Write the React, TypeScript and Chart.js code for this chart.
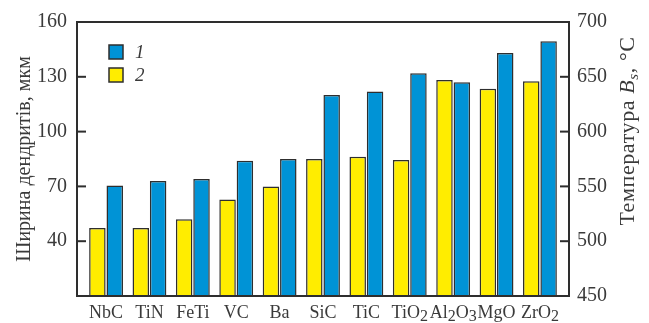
import React, { useEffect, useRef } from 'react';
import { Chart, registerables } from 'chart.js';

Chart.register(...registerables);

// ---- data ----
const categories = ['NbC', 'TiN', 'FeTi', 'VC', 'Ba', 'SiC', 'TiC', 'TiO₂', 'Al₂O₃', 'MgO', 'ZrO₂'];
const dendriteWidth = [70.5, 73, 74, 84, 85, 120, 122, 132, 127, 143, 149.5]; // series 1, left axis (мкм)
const temperatureBs = [512, 512, 520, 538, 550, 575, 577, 574, 647, 639, 646]; // series 2, right axis (°C)
const leftTicks = [10, 40, 70, 100, 130, 160];
const rightTicks = [450, 500, 550, 600, 650, 700];
const seriesLabels = ['1', '2'];
const leftTitle = 'Ширина дендритів, мкм';
const rightTitleParts = ['Температура ', 'B', 's', ', °C'];

const SERIF = "'Liberation Serif', 'Times New Roman', serif";
const BLUE = '#0093d6';
const YELLOW = '#ffed00';
const EDGE = '#2e2e2e';
const TEXT = '#3a3a3a';

const SUB = '₀₁₂₃₄₅₆₇₈₉';

function drawFormula(ctx: CanvasRenderingContext2D, text: string, cx: number, y: number) {
  const segs: { t: string; sub: boolean }[] = [];
  for (const ch of Array.from(text)) {
    const idx = SUB.indexOf(ch);
    const sub = idx >= 0;
    const c = sub ? String(idx) : ch;
    const last = segs[segs.length - 1];
    if (last && last.sub === sub) last.t += c;
    else segs.push({ t: c, sub });
  }
  const fontN = `18px ${SERIF}`;
  const fontS = `16px ${SERIF}`;
  let total = 0;
  segs.forEach((s) => {
    ctx.font = s.sub ? fontS : fontN;
    total += ctx.measureText(s.t).width;
  });
  let x = cx - total / 2;
  ctx.textAlign = 'left';
  ctx.textBaseline = 'alphabetic';
  segs.forEach((s) => {
    ctx.font = s.sub ? fontS : fontN;
    ctx.fillText(s.t, x, s.sub ? y + 3 : y);
    x += ctx.measureText(s.t).width;
  });
}

const framePlugin = {
  id: 'frame',
  afterDraw(chart: any) {
    const { ctx, chartArea } = chart;
    const { left, right, top, bottom } = chartArea;
    ctx.save();
    // inward tick marks
    ctx.strokeStyle = EDGE;
    ctx.lineWidth = 2;
    const yL = chart.scales.y;
    const yR = chart.scales.y2;
    yL.ticks.forEach((t: any) => {
      const p = yL.getPixelForValue(t.value);
      if (p <= top + 2 || p >= bottom - 2) return;
      ctx.beginPath();
      ctx.moveTo(left, p);
      ctx.lineTo(left + 9, p);
      ctx.stroke();
    });
    yR.ticks.forEach((t: any) => {
      const p = yR.getPixelForValue(t.value);
      if (p <= top + 2 || p >= bottom - 2) return;
      ctx.beginPath();
      ctx.moveTo(right, p);
      ctx.lineTo(right - 9, p);
      ctx.stroke();
    });
    // box
    ctx.lineWidth = 2;
    ctx.strokeRect(left, top, right - left, bottom - top);

    // category labels (with lowered subscript digits)
    ctx.fillStyle = TEXT;
    const xs = chart.scales.x;
    categories.forEach((c, i) => {
      drawFormula(ctx, c, xs.getPixelForValue(i), 318);
    });

    // legend (series 1 first)
    const ds = chart.data.datasets;
    [1, 0].forEach((di, k) => {
      const d = ds[di];
      const bx = left + 32;
      const by = top + 23 + k * 23;
      ctx.fillStyle = d.backgroundColor;
      ctx.fillRect(bx, by, 14, 14);
      ctx.lineWidth = 1.5;
      ctx.strokeStyle = EDGE;
      ctx.strokeRect(bx, by, 14, 14);
      ctx.fillStyle = TEXT;
      ctx.font = `italic 19px ${SERIF}`;
      ctx.textBaseline = 'middle';
      ctx.textAlign = 'left';
      ctx.fillText(d.label, bx + 26, by + 8);
    });

    // left title
    ctx.fillStyle = TEXT;
    ctx.save();
    ctx.translate(30, (top + bottom) / 2);
    ctx.rotate(-Math.PI / 2);
    ctx.font = `20px ${SERIF}`;
    ctx.textAlign = 'center';
    ctx.textBaseline = 'alphabetic';
    ctx.fillText(leftTitle, 0, 0);
    ctx.restore();

    // right title with italic B and subscript s
    const parts = [
      { t: rightTitleParts[0], f: `22px ${SERIF}`, dy: 0 },
      { t: rightTitleParts[1], f: `italic 22px ${SERIF}`, dy: 0 },
      { t: rightTitleParts[2], f: `italic 15px ${SERIF}`, dy: 4 },
      { t: rightTitleParts[3], f: `22px ${SERIF}`, dy: 0 },
    ];
    ctx.save();
    try {
      (ctx as any).letterSpacing = '0.6px';
    } catch (e) {}
    let total = 0;
    parts.forEach((p) => {
      ctx.font = p.f;
      total += ctx.measureText(p.t).width;
    });
    ctx.translate(634, 131);
    ctx.rotate(-Math.PI / 2);
    ctx.textAlign = 'left';
    ctx.textBaseline = 'alphabetic';
    let x = -total / 2;
    parts.forEach((p) => {
      ctx.font = p.f;
      ctx.fillText(p.t, x, p.dy);
      x += ctx.measureText(p.t).width;
    });
    ctx.restore();
    ctx.restore();
  },
};

export default function App() {
  const ref = useRef<HTMLCanvasElement | null>(null);
  useEffect(() => {
    if (!ref.current) return;
    const chart = new Chart(ref.current, {
      type: 'bar',
      data: {
        datasets: [
          {
            label: seriesLabels[1],
            data: temperatureBs.map((v, i) => ({ x: i, y: v })),
            backgroundColor: YELLOW,
            borderColor: EDGE,
            borderWidth: 1.5,
            yAxisID: 'y2',
          },
          {
            label: seriesLabels[0],
            data: dendriteWidth.map((v, i) => ({ x: i, y: v })),
            backgroundColor: BLUE,
            borderColor: EDGE,
            borderWidth: 1.5,
            yAxisID: 'y',
          },
        ],
      } as any,
      options: {
        responsive: false,
        animation: false,
        devicePixelRatio: 1,
        layout: { padding: { top: 16, left: 0, right: 0, bottom: 0 } },
        datasets: { bar: { categoryPercentage: 0.8, barPercentage: 0.95 } },
        plugins: { legend: { display: false }, tooltip: { enabled: false } },
        scales: {
          x: {
            type: 'linear',
            offset: false,
            min: -0.67,
            max: 10.67,
            grid: { display: false, drawTicks: false, offset: false },
            border: { display: false },
            afterBuildTicks: (s: any) => {
              s.ticks = categories.map((_, i) => ({ value: i }));
            },
            afterFit: (s: any) => {
              s.height = 27;
            },
            ticks: {
              display: false,
              autoSkip: false,
              maxRotation: 0,
              callback: (v: any) => categories[v as number] ?? '',
            },
          },
          y: {
            type: 'linear',
            position: 'left',
            min: 10,
            max: 160,
            grid: { display: false, drawTicks: false },
            border: { display: false },
            afterBuildTicks: (s: any) => {
              s.ticks = leftTicks.map((v) => ({ value: v }));
            },
            afterFit: (s: any) => {
              s.width = 77;
            },
            ticks: {
              padding: 10,
              color: TEXT,
              font: { family: SERIF, size: 20 },
              callback: (v: any) => (v === 10 ? '' : String(v)),
            },
          },
          y2: {
            type: 'linear',
            position: 'right',
            min: 450,
            max: 700,
            grid: { display: false, drawTicks: false },
            border: { display: false },
            afterBuildTicks: (s: any) => {
              s.ticks = rightTicks.map((v) => ({ value: v }));
            },
            afterFit: (s: any) => {
              s.width = 80;
            },
            ticks: {
              padding: 8,
              color: TEXT,
              font: { family: SERIF, size: 20 },
              callback: (v: any) => String(v),
            },
          },
        },
      } as any,
      plugins: [framePlugin],
    });
    return () => chart.destroy();
  }, []);
  return (
    <div style={{ position: 'fixed', left: 0, top: 0, width: 649, height: 323, background: '#fff' }}>
      <canvas ref={ref} width={649} height={323} style={{ display: 'block' }} />
    </div>
  );
}
